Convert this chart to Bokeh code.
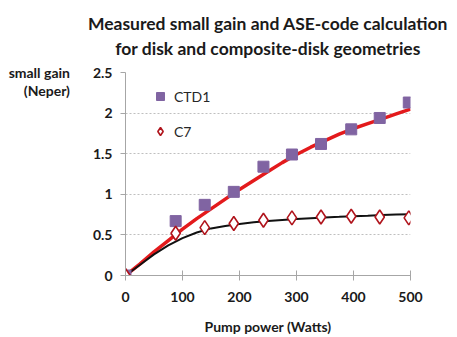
from bokeh.plotting import figure
from bokeh.models import Legend, LegendItem, Range1d, FixedTicker
from bokeh.embed import file_html
from bokeh.resources import INLINE

# Measured data
power = [0, 88, 139, 190, 242, 292, 343, 396, 446, 497]
ctd1 = [0, 0.67, 0.87, 1.03, 1.34, 1.49, 1.62, 1.80, 1.94, 2.13]
c7 = [0, 0.52, 0.59, 0.64, 0.68, 0.71, 0.72, 0.73, 0.72, 0.71]

# ASE-code calculation curves
calc_power = [0, 25, 50, 75, 100, 125, 150, 175, 200, 225, 250, 275, 300, 325, 350, 375, 400, 425, 450, 475, 500]
calc_ctd1 = [0, 0.14, 0.29, 0.43, 0.57, 0.70, 0.82, 0.94, 1.06, 1.17, 1.28, 1.39, 1.49, 1.58, 1.66, 1.74, 1.81, 1.87, 1.93, 1.99, 2.05]
calc_c7 = [0, 0.13, 0.26, 0.37, 0.46, 0.53, 0.58, 0.61, 0.635, 0.655, 0.67, 0.683, 0.695, 0.705, 0.715, 0.722, 0.73, 0.737, 0.745, 0.75, 0.755]

x_ticks = [0, 100, 200, 300, 400, 500]
y_ticks = [0, 0.5, 1, 1.5, 2, 2.5]

FONT = "Lato"
TXT = "#1a1a1a"

p = figure(width=457, height=337, output_backend="svg", toolbar_location=None,
           x_range=Range1d(0, 500), y_range=Range1d(0, 2.5),
           min_border_left=125, min_border_right=47, min_border_top=72, min_border_bottom=62,
           title="Measured small gain and ASE-code calculation\nfor disk and composite-disk geometries")
p.title.text_font = FONT
p.title.text_font_style = "bold"
p.title.text_font_size = "17.5px"
p.title.text_line_height = 1.2
p.title.text_color = TXT
p.title.align = "center"
p.title.text_align = "center"
p.title.vertical_align = "top"
p.title.standoff = 24

p.outline_line_color = None
p.background_fill_color = "white"
p.border_fill_color = "white"

p.xgrid.grid_line_color = None
p.ygrid.grid_line_color = "#BFBFBF"
p.ygrid.grid_line_dash = "2 2"
p.ygrid.ticker = FixedTicker(ticks=y_ticks)

p.xaxis.ticker = FixedTicker(ticks=x_ticks)
p.yaxis.ticker = FixedTicker(ticks=y_ticks)
for ax in (p.xaxis, p.yaxis):
    ax.axis_line_color = "#A6A6A6"
    ax.major_tick_line_color = "#A6A6A6"
    ax.minor_tick_line_color = None
    ax.major_label_text_font = FONT
    ax.major_label_text_font_style = "bold"
    ax.major_label_text_font_size = "14px"
    ax.major_label_text_color = TXT
    ax.axis_label_text_font = FONT
    ax.axis_label_text_font_style = "bold"
    ax.axis_label_text_font_size = "14px"
    ax.axis_label_text_color = TXT
p.xaxis.major_tick_in = 5
p.xaxis.major_tick_out = 5
p.yaxis.major_tick_in = 0
p.yaxis.major_tick_out = 5
p.xaxis.major_label_standoff = 11
p.yaxis.major_label_standoff = 8
p.xaxis.axis_label = "Pump power (Watts)"
p.xaxis.axis_label_standoff = 13
p.yaxis.axis_label = "\nsmall gain\n(Neper)"
p.yaxis.axis_label_orientation = "horizontal"
p.yaxis.axis_label_align = "end"
p.yaxis.axis_label_text_align = "center"
p.yaxis.axis_label_text_line_height = 1.05
p.yaxis.axis_label_standoff = 20

p.line(calc_power, calc_ctd1, line_color="#E31A1C", line_width=3.5)
p.line(calc_power, calc_c7, line_color="#111111", line_width=2)

r1 = p.scatter(power, ctd1, marker="square", size=11, fill_color="#8064A2", line_color="#8064A2")
r2 = p.scatter(power, c7, marker="diamond", size=14, fill_color="white", line_color="#B0141C", line_width=1.6)

legend = Legend(items=[LegendItem(label="CTD1", renderers=[r1]),
                       LegendItem(label="C7", renderers=[r2])],
                location=(25, 134), padding=0, margin=0, spacing=15,
                glyph_width=20, glyph_height=20, label_height=20, label_standoff=4,
                border_line_color=None, background_fill_alpha=0,
                label_text_font=FONT, label_text_font_size="14px", label_text_color="#262626")
p.add_layout(legend, "center")

open("out.html", "w").write(file_html(p, INLINE))
